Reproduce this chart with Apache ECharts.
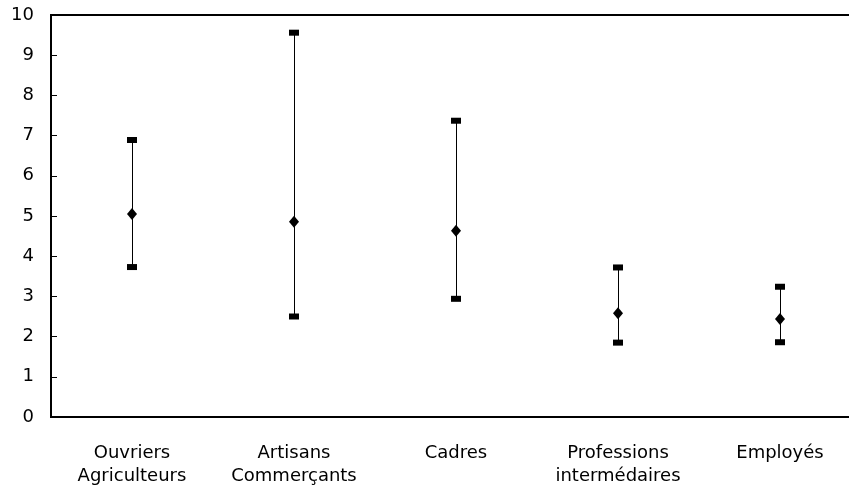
<!DOCTYPE html>
<html>
<head>
<meta charset="utf-8">
<script src="https://cdn.jsdelivr.net/npm/echarts@6/dist/echarts.min.js"></script>
<style>html,body{margin:0;padding:0;background:#fff;overflow:hidden}#c{width:875px;height:490px}</style>
</head>
<body>
<div id="c"></div>
<script>
const categories = ["Ouvriers\nAgriculteurs", "Artisans\nCommerçants", "Cadres", "Professions\nintermédaires", "Employés"];
const highValues = [6.89, 9.56, 7.37, 3.72, 3.24];
const meanValues = [5.05, 4.86, 4.63, 2.58, 2.44];
const lowValues  = [3.73, 2.50, 2.94, 1.85, 1.86];
const yTicks = [0, 1, 2, 3, 4, 5, 6, 7, 8, 9, 10];

const chart = echarts.init(document.getElementById('c'));
const rangeData = categories.map((c, i) => [i, lowValues[i], highValues[i]]);

chart.setOption({
  animation: false,
  grid: { left: 51, top: 15, width: 810, height: 402, show: true, borderColor: '#000', borderWidth: 2, backgroundColor: 'transparent' },
  xAxis: {
    type: 'category',
    data: categories,
    boundaryGap: true,
    axisLine: { lineStyle: { color: '#000', width: 2 } },
    axisTick: { inside: true, length: 5, lineStyle: { color: '#000', width: 1 } },
    axisLabel: { color: '#000', fontFamily: 'DejaVu Sans', fontSize: 18, margin: 25, lineHeight: 23, interval: 0 }
  },
  yAxis: {
    type: 'value',
    min: yTicks[0],
    max: yTicks[yTicks.length - 1],
    interval: 1,
    splitLine: { show: false },
    axisLine: { show: true, lineStyle: { color: '#000', width: 2 } },
    axisTick: { show: true, inside: true, length: 6, lineStyle: { color: '#000', width: 1 } },
    axisLabel: { color: '#000', fontFamily: 'DejaVu Sans', fontSize: 18, margin: 17 }
  },
  series: [
    {
      type: 'custom',
      data: rangeData,
      renderItem: function (params, api) {
        const p1 = api.coord([api.value(0), api.value(1)]);
        const p2 = api.coord([api.value(0), api.value(2)]);
        const x = Math.round(p1[0]) + 0.5;
        return { type: 'line', shape: { x1: x, y1: p1[1], x2: x, y2: p2[1] }, style: { stroke: '#000', lineWidth: 1 } };
      },
      z: 1
    },
    {
      type: 'scatter', data: highValues, symbol: 'rect', symbolSize: [10, 6],
      itemStyle: { color: '#000', opacity: 1 }, z: 2
    },
    {
      type: 'scatter', data: lowValues, symbol: 'rect', symbolSize: [10, 6],
      itemStyle: { color: '#000', opacity: 1 }, z: 2
    },
    {
      type: 'scatter', data: meanValues, symbol: 'diamond', symbolSize: [10, 12],
      itemStyle: { color: '#000', opacity: 1 }, z: 3
    }
  ]
});
</script>
</body>
</html>
